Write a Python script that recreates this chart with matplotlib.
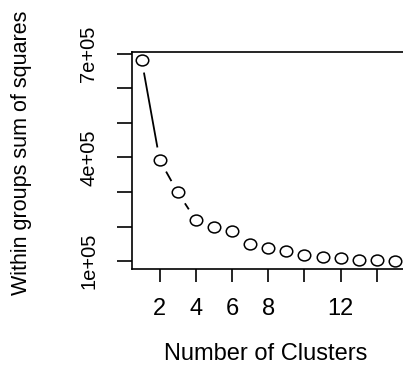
import numpy as np
import matplotlib
matplotlib.use("Agg")
import matplotlib.pyplot as plt
from matplotlib.path import Path
from matplotlib.transforms import Affine2D

plt.rcParams['font.family'] = ['Liberation Sans', 'DejaVu Sans']

# within-groups sum of squares for k = 1..15 (elbow plot)
clusters = np.arange(1, 16)
wss = [682600, 392000, 299000, 218600, 199000, 187500, 150500, 137000,
       129000, 118000, 112000, 109000, 105000, 105000, 100000]

x_ticks = [2, 4, 6, 8, 10, 12, 14]
x_tick_labels = ["2", "4", "6", "8", "", "12", ""]
y_ticks = [100000, 200000, 300000, 400000, 500000, 600000, 700000]
y_tick_labels = ["1e+05", "", "", "4e+05", "", "", "7e+05"]

W, H = 403, 373
fig = plt.figure(figsize=(W / 100, H / 100), dpi=100)
ax = fig.add_axes([131.5 / W, (H - 269.3) / H, (405 - 131.5) / W, (269.3 - 51.7) / H])

# R-style axis range: data range padded by 4%
ax.set_xlim(0.44, 15.56)
ypad = (max(wss) - min(wss)) * 0.04
ax.set_ylim(min(wss) - ypad, max(wss) + ypad)

# type="b": segments broken around each point
gap = 13.0
pts = ax.transData.transform(np.column_stack([clusters, wss]))
inv = ax.transData.inverted()
for p0, p1 in zip(pts[:-1], pts[1:]):
    d = p1 - p0
    L = np.hypot(*d)
    if L <= 2 * gap:
        continue
    u = d / L
    a, b = inv.transform([p0 + u * gap, p1 - u * gap])
    ax.plot([a[0], b[0]], [a[1], b[1]], color='black', lw=1.3, solid_capstyle='butt')

# slightly wide circle, as in the stretched reference
circ = Path.unit_circle().transformed(Affine2D().scale(1.15, 1.0))
ax.plot(clusters, wss, linestyle='none', marker=circ, markersize=9,
        markerfacecolor='none', markeredgecolor='black', markeredgewidth=1.1)

ax.set_xticks(x_ticks)
ax.set_xticklabels(x_tick_labels, fontsize=17)
ax.set_yticks(y_ticks)
ax.set_yticklabels(y_tick_labels, fontsize=14.5, rotation=90, va='center')
ax.tick_params(axis='x', length=9.5, width=1.2, pad=11, color='black')
ax.tick_params(axis='y', length=11, width=1.2, pad=13, color='black')

for s in ax.spines.values():
    s.set_linewidth(1.2)

fig.text(22 / W, 1 - 153 / H, "Within groups sum of squares", rotation=90,
         ha='center', va='center', fontsize=15.5)
fig.text(266 / W, 1 - 354 / H, "Number of Clusters", ha='center', va='center',
         fontsize=17)

fig.savefig("out.png", dpi=100, facecolor='white')
